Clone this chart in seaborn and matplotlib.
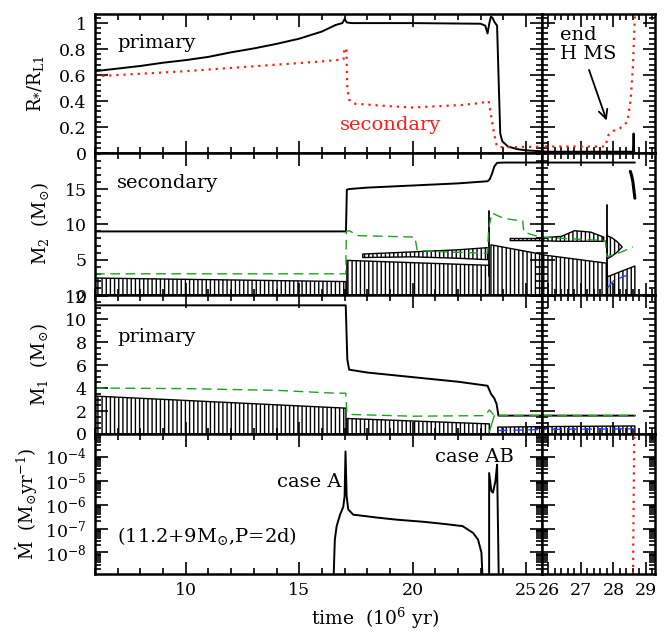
import numpy as np
import pandas as pd
import seaborn as sns
import matplotlib
matplotlib.use('Agg')
import matplotlib.pyplot as plt
from matplotlib.ticker import MultipleLocator, FixedLocator, FuncFormatter, LogLocator, NullFormatter, LogFormatterSciNotation

# ---------------- data (time in 10^6 yr) ----------------
# radius / Roche-lobe radius
r1_t = [6, 7, 8, 9, 10, 11, 12, 13, 14, 15, 16, 16.6, 16.9, 17.0, 17.1, 17.3, 20, 23.0, 23.2, 23.3,
        23.38, 23.45, 23.52, 23.6, 23.72, 23.8, 23.86, 23.95, 24.2, 24.6, 25, 26, 28.6, 28.62, 28.64]
r1_v = [0.63, 0.65, 0.67, 0.695, 0.715, 0.74, 0.775, 0.805, 0.84, 0.88, 0.935, 0.985, 1.0, 1.03, 1.005,
        1.0, 1.0, 0.995, 0.98, 0.92, 1.0, 1.05, 1.04, 1.01, 0.98, 0.5, 0.15, 0.09, 0.05, 0.03, 0.02,
        0.01, 0.01, 0.15, 0.0]
r2_t = [6, 8, 10, 12, 14, 16, 16.95, 17.0, 17.08, 17.12, 17.2, 17.4, 19, 20.0, 22.2, 23.0, 23.35, 23.5,
        23.66, 23.75, 24.5, 26, 27.75, 27.85, 28.0, 28.2, 28.43, 28.53, 28.6, 28.66]
r2_v = [0.59, 0.61, 0.63, 0.655, 0.68, 0.705, 0.72, 0.81, 0.79, 0.5, 0.41, 0.38, 0.36, 0.35, 0.37, 0.385,
        0.40, 0.24, 0.08, 0.045, 0.045, 0.05, 0.05, 0.14, 0.17, 0.19, 0.24, 0.41, 0.66, 1.07]

# secondary mass
m2_t = [6, 17.06, 17.1, 17.2, 18, 20, 22, 23.3, 23.4, 23.5, 23.6, 23.72, 24.0, 28.66]
m2_v = [9.0, 9.0, 14.9, 15.0, 15.2, 15.5, 15.8, 16.1, 16.4, 17.2, 18.2, 18.7, 18.75, 18.75]
m2_end_t = [28.52, 28.56, 28.6, 28.66]
m2_end_v = [17.5, 16.9, 16.0, 13.7]
g2_t = [6, 17.05, 17.08, 17.2, 17.6, 20.1, 20.2, 21.5, 23.3, 23.35, 23.5, 23.9, 24.3, 24.85, 24.9,
        25.5, 26.5, 27.75, 27.8, 28.2, 28.6]
g2_v = [3.0, 3.0, 9.0, 9.1, 8.4, 8.2, 6.3, 6.1, 5.9, 9.5, 11.6, 11.0, 10.7, 10.5, 8.9, 8.3, 8.0, 7.7,
        5.4, 6.0, 6.8]
b2_t = [27.82, 28.0, 28.3, 28.6]
b2_v = [1.0, 2.0, 2.6, 3.1]
core2 = [([6, 17.06], [2.4, 1.9]), ([17.1, 23.38], [4.9, 4.2]),
         ([23.45, 27.8], [7.1, 4.5]), ([27.82, 28.66], [2.6, 4.1])]
shell2 = [([17.8, 20, 22, 23.3], [5.3, 5.4, 5.2, 5.0], [5.8, 6.1, 6.4, 6.7]),
          ([24.3, 25.5, 26.4, 26.8, 27.3, 27.7], [7.7, 7.7, 7.6, 7.6, 7.6, 7.6], [8.0, 8.0, 8.3, 9.1, 8.9, 8.2]),
          ([27.8, 27.95, 28.1, 28.27], [5.1, 5.5, 6.0, 6.8], [8.4, 8.1, 7.6, 6.8])]
edge2 = [([23.38, 23.38], [11.9, 2.7]), ([27.8, 27.8], [12.7, 0.0])]

# primary mass
m1_t = [6, 17.05, 17.12, 17.2, 18, 20, 22, 23.3, 23.45, 23.6, 23.7, 23.78, 28.66]
m1_v = [11.2, 11.2, 6.5, 5.6, 5.35, 4.95, 4.55, 4.2, 3.5, 3.1, 2.6, 1.6, 1.6]
g1_t = [6, 10, 14, 16.6, 17.05, 17.1, 17.3, 20, 23.2, 23.38, 23.6, 28.66]
g1_v = [4.0, 3.95, 3.8, 3.55, 3.55, 1.9, 1.7, 1.55, 1.6, 2.1, 1.6, 1.6]
g1b_t = [23.38, 23.6]
g1b_v = [0.2, 1.6]
b1_t = [23.75, 26, 28.66]
b1_v = [0.3, 0.4, 0.45]
core1 = [([6, 17.06], [3.3, 2.25]), ([17.1, 23.38], [1.35, 0.88]), ([23.75, 28.66], [0.6, 0.7])]

# mass-transfer rate (log10 Msun/yr)
mdA_t = [16.5, 16.57, 16.65, 16.8, 16.94, 17.0, 17.04, 17.09, 17.16, 17.38, 18.5, 19.3, 20.5, 21.5,
         22.2, 22.66, 22.88, 23.03, 23.1]
mdA_lg = [-9.5, -7.46, -6.9, -6.42, -6.1, -5.65, -3.78, -5.65, -6.2, -6.42, -6.55, -6.63, -6.72, -6.82,
          -6.9, -7.18, -7.46, -8.0, -9.5]
mdAB_t = [23.37, 23.37, 23.47, 23.54, 23.65, 23.72, 23.8]
mdAB_lg = [-9.5, -4.68, -5.44, -5.5, -5.0, -4.33, -9.5]
mdR_t = [28.6, 28.64]
mdR_lg = [-9.5, -3.0]

RED = '#ff1a1a'
GREEN = '#22a022'
BLUE = '#1f3fff'

sns.set_style('white')
plt.rcParams['font.family'] = ['DejaVu Serif']
plt.rcParams['mathtext.fontset'] = 'dejavuserif'
plt.rcParams['hatch.linewidth'] = 1.0
plt.rcParams['axes.linewidth'] = 1.8
for k in ['text.color', 'axes.labelcolor', 'xtick.color', 'ytick.color', 'axes.edgecolor']:
    plt.rcParams[k] = 'black'

W, H = 671, 632
fig = plt.figure(figsize=(W / 100, H / 100), dpi=100)

xl, xs, xr = 95, 542, 655
rows = [14, 153, 295, 434, 574]
axes = []
for i in range(4):
    y0, y1 = rows[i], rows[i + 1]
    a = fig.add_axes([xl / W, 1 - y1 / H, (xs - xl) / W, (y1 - y0) / H])
    b = fig.add_axes([xs / W, 1 - y1 / H, (xr - xs) / W, (y1 - y0) / H])
    axes.append((a, b))


def line(pair, t, v, **kw):
    for ax in pair:
        sns.lineplot(x=t, y=v, ax=ax, estimator=None, sort=False, legend=False, **kw)


def hatch(pair, t, lo, hi):
    for ax in pair:
        ax.fill_between(t, lo, hi, facecolor='none', edgecolor='black', hatch='||||', linewidth=1.0)


dot = (0, (1, 2.2))
dash = (0, (7, 4))

# panel 1
p = axes[0]
line(p, r1_t, r1_v, color='black', linewidth=1.4)
line(p, r2_t, r2_v, color=RED, linewidth=1.6, linestyle=dot)

# panel 2
p = axes[1]
for t, top in core2:
    hatch(p, t, [0] * len(t), top)
for t, lo, hi in shell2:
    hatch(p, t, lo, hi)
for t, v in edge2:
    line(p, t, v, color='black', linewidth=1.3)
line(p, m2_t, m2_v, color='black', linewidth=1.4)
line(p, m2_end_t, m2_end_v, color='black', linewidth=2.2)
line(p, g2_t, g2_v, color=GREEN, linewidth=1.0, linestyle=dash)
line(p, b2_t, b2_v, color=BLUE, linewidth=1.0, linestyle=dash)

# panel 3
p = axes[2]
for t, top in core1:
    hatch(p, t, [0] * len(t), top)
line(p, m1_t, m1_v, color='black', linewidth=1.4)
line(p, g1_t, g1_v, color=GREEN, linewidth=1.0, linestyle=dash)
line(p, g1b_t, g1b_v, color=GREEN, linewidth=1.0)
line(p, b1_t, b1_v, color=BLUE, linewidth=1.0, linestyle=dash)

# panel 4
p = axes[3]
for ax in p:
    ax.set_yscale('log')
line(p, mdA_t, [10 ** v for v in mdA_lg], color='black', linewidth=1.4)
line(p, mdAB_t, [10 ** v for v in mdAB_lg], color='black', linewidth=1.4)
line(p, mdR_t, [10 ** v for v in mdR_lg], color=RED, linewidth=1.6, linestyle=dot)

# axes cosmetics
ylims = [(0, 1.07), (0, 20.1), (0, 12.1), (10 ** -8.9, 10 ** -3.05)]
ymaj = [[0, 0.2, 0.4, 0.6, 0.8, 1.0], [0, 5, 10, 15], [0, 2, 4, 6, 8, 10, 12], None]
ymin = [0.04, 1, 0.5, None]
fmt = FuncFormatter(lambda v, pos: f'{v:g}')
for i, (a, b) in enumerate(axes):
    a.set_xlim(6, 25.7)
    b.set_xlim(25.8, 29.28)
    a.xaxis.set_major_locator(MultipleLocator(5))
    a.xaxis.set_minor_locator(MultipleLocator(1))
    b.xaxis.set_major_locator(MultipleLocator(1))
    b.xaxis.set_minor_locator(MultipleLocator(0.2))
    for ax in (a, b):
        ax.set_ylim(*ylims[i])
        ax.set_xlabel('')
        ax.set_ylabel('')
        if ymaj[i] is not None:
            ax.yaxis.set_major_locator(FixedLocator(ymaj[i]))
            ax.yaxis.set_minor_locator(MultipleLocator(ymin[i]))
            ax.yaxis.set_major_formatter(fmt)
        else:
            ax.yaxis.set_major_locator(FixedLocator([1e-8, 1e-7, 1e-6, 1e-5, 1e-4]))
            ax.yaxis.set_minor_locator(LogLocator(base=10, subs=np.arange(2, 10), numticks=20))
            ax.yaxis.set_major_formatter(LogFormatterSciNotation())
            ax.yaxis.set_minor_formatter(NullFormatter())
        ax.xaxis.set_major_formatter(fmt)
        ax.tick_params(which='both', direction='in', top=True, right=True, bottom=True, left=True,
                       width=1.2, labelsize=12.5, pad=6, colors='black')
        ax.tick_params(which='major', length=9)
        ax.tick_params(which='minor', length=4.5)
        for s in ax.spines.values():
            s.set_linewidth(1.8)
            s.set_color('black')
    b.tick_params(labelleft=False)
    if i < 3:
        a.tick_params(labelbottom=False)
        b.tick_params(labelbottom=False)

# labels
fs = 14
axes[0][0].text(6.97, 0.85, 'primary', fontsize=fs, va='center')
axes[0][0].text(16.79, 0.215, 'secondary', fontsize=fs, va='center', color=RED)
axes[0][1].text(26.36, 0.98, 'end\nH MS', fontsize=fs, va='top', linespacing=1.1)
axes[0][1].annotate('', xy=(27.82, 0.23), xytext=(27.22, 0.66),
                    arrowprops=dict(arrowstyle='->', lw=1.3, color='black', mutation_scale=16))
axes[1][0].text(6.97, 15.9, 'secondary', fontsize=fs, va='center')
axes[2][0].text(6.97, 8.45, 'primary', fontsize=fs, va='center')
axes[3][0].text(14.0, 10 ** -5.04, 'case A', fontsize=fs, va='center')
axes[3][0].text(20.98, 10 ** -4.0, 'case AB', fontsize=fs, va='center')
axes[3][0].text(6.97, 10 ** -7.33, r'(11.2+9M$_{\odot}$,P=2d)', fontsize=fs, va='center')

ylab = [r'R$_{*}$/R$_{\rm L1}$', r'M$_2$  (M$_{\odot}$)', r'M$_1$  (M$_{\odot}$)',
        r'$\dot{\rm M}$  (M$_{\odot}$yr$^{-1}$)']
ylab_x = [36, 40, 39, 27]
for i in range(4):
    yc = (rows[i] + rows[i + 1]) / 2
    fig.text(ylab_x[i] / W, 1 - yc / H, ylab[i], rotation=90, ha='center', va='center', fontsize=13)
fig.text(375 / W, 1 - 618 / H, r'time  (10$^6$ yr)', ha='center', va='center', fontsize=13.5)

fig.savefig('out.png', dpi=100)
